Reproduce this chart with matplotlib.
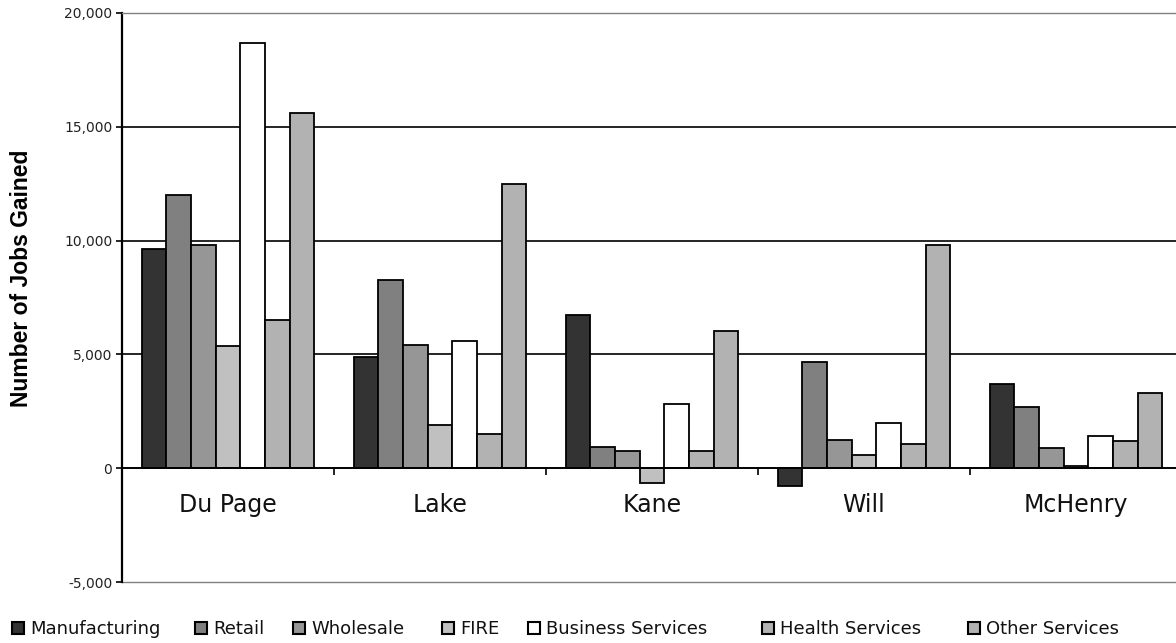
import matplotlib
matplotlib.use("Agg")
import matplotlib.pyplot as plt
from matplotlib.patches import Rectangle
import numpy as np

# Job gains by collar county and industry
counties = ["Du Page", "Lake", "Kane", "Will", "McHenry"]
industries = ["Manufacturing", "Retail", "Wholesale", "FIRE",
              "Business Services", "Health Services", "Other Services"]

manufacturing = [9650, 4900, 6750, -800, 3700]
retail = [12000, 8250, 950, 4650, 2700]
wholesale = [9800, 5400, 750, 1250, 900]
fire = [5350, 1900, -650, 600, 100]
business_services = [18700, 5600, 2800, 2000, 1400]
health_services = [6500, 1500, 750, 1050, 1200]
other_services = [15600, 12500, 6050, 9800, 3300]

series = [manufacturing, retail, wholesale, fire,
          business_services, health_services, other_services]
colors = ["#333333", "#808080", "#969696", "#c0c0c0",
          "#ffffff", "#b2b2b2", "#b2b2b2"]

y_ticks = [-5000, 0, 5000, 10000, 15000, 20000]

FW, FH = 1176, 643
fig = plt.figure(figsize=(FW / 100, FH / 100), dpi=100)
fig.patch.set_facecolor("white")

# plot area (extends slightly past the right edge of the canvas)
left_px, right_px, top_px, bottom_px = 122, 1182, 13, 582
ax = fig.add_axes([left_px / FW, 1 - bottom_px / FH,
                   (right_px - left_px) / FW, (bottom_px - top_px) / FH])

x = np.arange(len(counties))
n = len(series)
width = 0.814 / n
for j, (vals, col) in enumerate(zip(series, colors)):
    ax.bar(x + (j - (n - 1) / 2) * width, vals, width, color=col,
           edgecolor="black", linewidth=1.3, zorder=3)

ax.set_xlim(-0.5, len(counties) - 0.5)
ax.set_ylim(y_ticks[0], y_ticks[-1])

# horizontal gridlines
for yv in y_ticks[2:-1]:
    ax.axhline(yv, color="black", linewidth=1.2, zorder=1)
ax.axhline(y_ticks[0], color="#808080", linewidth=1.0, clip_on=False, zorder=1)

ax.spines["right"].set_visible(False)
ax.spines["top"].set_color("#808080")
ax.spines["top"].set_linewidth(1.0)
ax.spines["left"].set_color("black")
ax.spines["left"].set_linewidth(1.6)
ax.spines["bottom"].set_position(("data", 0))
ax.spines["bottom"].set_color("black")
ax.spines["bottom"].set_linewidth(1.4)
ax.spines["bottom"].set_zorder(4)

ax.set_yticks(y_ticks)
ax.set_yticklabels([f"{v:,}" for v in y_ticks])
ax.tick_params(axis="y", direction="out", length=4.5, width=1.2,
               pad=2.5, labelsize=10, labelcolor="#222222")

ax.set_xticks(np.arange(len(counties) - 1) + 0.5)
ax.tick_params(axis="x", direction="out", length=5, width=1.2,
               labelbottom=False)

for i, name in enumerate(counties):
    ax.annotate(name, xy=(i, 0), xytext=(0, -44 * 0.72),
                textcoords="offset points", ha="center", va="baseline",
                fontsize=17, color="#111111")

fig.text(22 / FW, 1 - 278 / FH, "Number of Jobs Gained", rotation=90,
         ha="center", va="center", fontsize=16.5, fontweight="bold",
         family="Liberation Sans")

# legend row along the bottom
legend_px = [12, 195, 293, 442, 528, 762, 968]
sq = 12
for lx, lab, col in zip(legend_px, industries, colors):
    fig.patches.append(Rectangle((lx / FW, 1 - 634 / FH), sq / FW, sq / FH,
                                 transform=fig.transFigure, facecolor=col,
                                 edgecolor="black", linewidth=1.5))
    fig.text((lx + 18) / FW, 1 - 634 / FH, lab, ha="left", va="baseline",
             fontsize=13, color="#111111")

fig.savefig("out.png", dpi=100, facecolor="white")
